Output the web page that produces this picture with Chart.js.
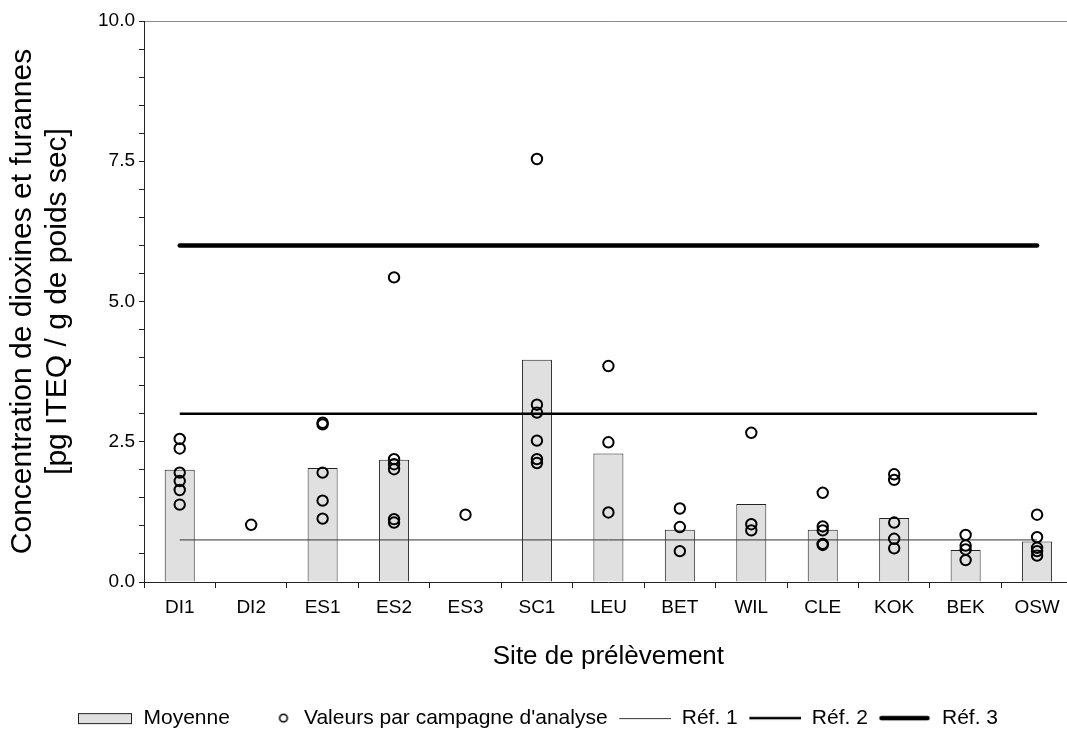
<!DOCTYPE html>
<html>
<head>
<meta charset="utf-8">
<script src="https://cdn.jsdelivr.net/npm/chart.js@4/dist/chart.umd.min.js"></script>
<style>
  html, body { margin: 0; padding: 0; background: #fff; overflow: hidden; }
  #chart { display: block; }
</style>
</head>
<body>
<canvas id="chart" width="1080" height="740"></canvas>
<script>
const sites = ['DI1', 'DI2', 'ES1', 'ES2', 'ES3', 'SC1', 'LEU', 'BET', 'WIL', 'CLE', 'KOK', 'BEK', 'OSW'];
const moyenne = [2.0, null, 2.03, 2.18, null, 3.96, 2.29, 0.93, 1.39, 0.93, 1.14, 0.57, 0.72];
const campagnes = [
    [2.55, 2.38, 1.95, 1.80, 1.64, 1.38],
    [1.02],
    [2.84, 2.81, 1.95, 1.45, 1.13],
    [5.43, 2.19, 2.10, 2.01, 1.12, 1.06],
    [1.20],
    [7.54, 3.16, 3.02, 2.52, 2.19, 2.12],
    [3.85, 2.49, 1.24],
    [1.31, 0.98, 0.55],
    [2.66, 1.03, 0.92],
    [1.59, 0.99, 0.92, 0.68, 0.66],
    [1.92, 1.82, 1.06, 0.77, 0.60],
    [0.84, 0.65, 0.58, 0.39],
    [1.20, 0.80, 0.61, 0.55, 0.47]
];
const refLevels = [0.75, 3.0, 6.0];
const refLabels = ['Réf. 1', 'Réf. 2', 'Réf. 3'];
const yTickLabels = ['0.0', '2.5', '5.0', '7.5', '10.0'];

const FONT = "'Liberation Sans', Arial, sans-serif";
Chart.defaults.font.family = FONT;
Chart.defaults.color = '#000';

// petits dessins pour la légende
function swatch(draw) {
    const c = document.createElement('canvas');
    c.width = 56;
    c.height = 16;
    draw(c.getContext('2d'));
    return c;
}
const swBar = swatch(ctx => {
    ctx.fillStyle = '#e0e0e0';
    ctx.strokeStyle = '#222';
    ctx.lineWidth = 1;
    ctx.fillRect(1, 3, 54, 10);
    ctx.strokeRect(1.5, 3.5, 53, 10);
});
const swDot = swatch(ctx => {
    ctx.strokeStyle = '#000';
    ctx.lineWidth = 1.6;
    ctx.beginPath();
    ctx.arc(46, 8, 3.8, 0, Math.PI * 2);
    ctx.stroke();
});
const refStyles = [
    {width: 1, color: '#333'},
    {width: 2.5, color: '#000'},
    {width: 4.5, color: '#000'}
];
const swRefs = refStyles.map(s => swatch(ctx => {
    ctx.strokeStyle = s.color;
    ctx.lineWidth = s.width;
    ctx.lineCap = s.width > 4 ? 'round' : 'butt';
    ctx.beginPath();
    ctx.moveTo(s.width > 4 ? 6 : 4, s.width === 1 ? 8.5 : 8);
    ctx.lineTo(s.width > 4 ? 52 : 56, s.width === 1 ? 8.5 : 8);
    ctx.stroke();
}));

const points = [];
sites.forEach((s, i) => {
    campagnes[i].forEach(v => points.push({x: s, y: v}));
});

const refDatasets = refLevels.map((lvl, i) => ({
    type: 'line',
    label: refLabels[i],
    data: [{x: sites[0], y: lvl}, {x: sites[sites.length - 1], y: lvl}],
    borderColor: refStyles[i].color,
    borderWidth: refStyles[i].width,
    borderCapStyle: i === 2 ? 'round' : 'butt',
    pointRadius: 0,
    fill: false,
    order: 2
}));

const ctx = document.getElementById('chart').getContext('2d');
new Chart(ctx, {
    type: 'bar',
    data: {
        labels: sites,
        datasets: [
            {
                label: 'Moyenne',
                data: moyenne,
                backgroundColor: '#e0e0e0',
                borderColor: '#222',
                borderWidth: 1,
                barPercentage: 0.42,
                categoryPercentage: 1,
                order: 3
            },
            ...refDatasets,
            {
                type: 'line',
                label: "Valeurs par campagne d'analyse",
                data: points,
                showLine: false,
                pointRadius: 5.2,
                pointBorderWidth: 2,
                pointBorderColor: '#000',
                pointBackgroundColor: 'rgba(0,0,0,0)',
                order: 1
            }
        ]
    },
    options: {
        responsive: false,
        devicePixelRatio: 1,
        animation: false,
        layout: {
            padding: {top: 21, right: 5, bottom: 1.4, left: 0}
        },
        plugins: {
            tooltip: {enabled: false},
            legend: {
                position: 'bottom',
                labels: {
                    usePointStyle: true,
                    pointStyleWidth: 56,
                    padding: 7.6,
                    color: '#000',
                    font: {size: 21, family: FONT},
                    generateLabels: () => {
                        const items = [
                            {text: 'Moyenne', pointStyle: swBar},
                            {text: "Valeurs par campagne d'analyse", pointStyle: swDot}
                        ];
                        refLabels.forEach((t, i) => items.push({text: t, pointStyle: swRefs[i]}));
                        return items.map((it, i) => ({
                            text: it.text,
                            pointStyle: it.pointStyle,
                            fillStyle: 'rgba(0,0,0,0)',
                            strokeStyle: 'rgba(0,0,0,0)',
                            lineWidth: 0,
                            fontColor: '#000',
                            hidden: false,
                            datasetIndex: i
                        }));
                    }
                }
            }
        },
        scales: {
            x: {
                offset: true,
                grid: {
                    offset: true,
                    drawOnChartArea: false,
                    drawTicks: true,
                    tickLength: 6,
                    tickColor: '#222'
                },
                border: {color: '#222', width: 1},
                ticks: {
                    font: {size: 19},
                    color: '#000',
                    padding: 8,
                    autoSkip: false,
                    maxRotation: 0
                },
                title: {
                    display: true,
                    text: 'Site de prélèvement',
                    font: {size: 26},
                    color: '#000',
                    padding: {top: 0, bottom: 27.4}
                },
                afterFit: scale => { scale.height = 118; }
            },
            y: {
                min: 0,
                max: 10,
                grid: {
                    drawOnChartArea: true,
                    drawTicks: true,
                    tickLength: 5,
                    tickColor: '#222',
                    color: c => (c.tick && c.tick.value === 10) ? '#8c8c8c' : 'rgba(0,0,0,0)'
                },
                border: {color: '#222', width: 1},
                ticks: {
                    stepSize: 0.5,
                    autoSkip: false,
                    font: {size: 19},
                    color: '#000',
                    padding: 4,
                    callback: v => {
                        const k = Math.round(v / 2.5);
                        return Math.abs(v - k * 2.5) < 1e-6 ? yTickLabels[k] : '';
                    }
                },
                title: {
                    display: true,
                    text: ['Concentration de dioxines et furannes', '[pg ITEQ / g de poids sec]'],
                    font: {size: 30, lineHeight: 1.15},
                    color: '#000',
                    padding: {top: 5.5, bottom: 0}
                },
                afterFit: scale => { scale.width = 144; }
            }
        }
    }
});
</script>
</body>
</html>
